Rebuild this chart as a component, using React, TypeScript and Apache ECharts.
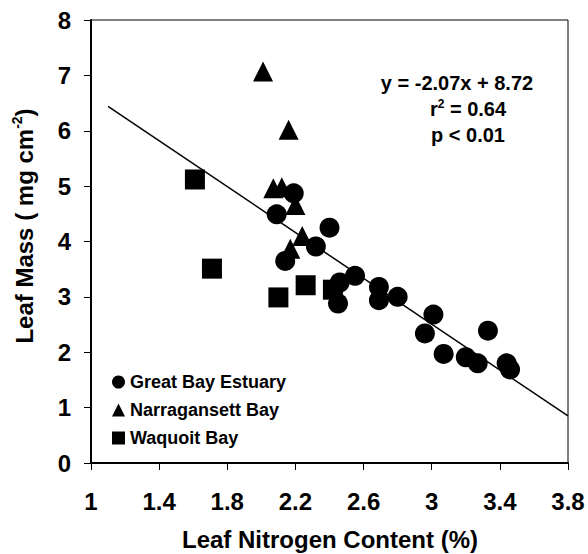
import React, { useEffect, useRef } from "react";
import * as echarts from "echarts";

const xTicks = [1, 1.4, 1.8, 2.2, 2.6, 3, 3.4, 3.8];
const yTicks = [0, 1, 2, 3, 4, 5, 6, 7, 8];

const greatBayX = [2.09, 2.19, 2.40, 2.32, 2.14, 2.46, 2.45, 2.55, 2.69, 2.69, 2.80, 3.01, 2.96, 3.33, 3.07, 3.20, 3.27, 3.44, 3.46];
const greatBayY = [4.49, 4.87, 4.25, 3.91, 3.65, 3.26, 2.88, 3.38, 3.18, 2.94, 3.00, 2.68, 2.34, 2.39, 1.97, 1.91, 1.80, 1.80, 1.69];

const narraX = [2.01, 2.16, 2.07, 2.12, 2.20, 2.24, 2.17];
const narraY = [7.07, 6.02, 4.96, 4.98, 4.66, 4.10, 3.87];

const waquoitX = [1.61, 1.71, 2.10, 2.26, 2.42];
const waquoitY = [5.12, 3.51, 2.99, 3.21, 3.13];

const fitX = [1.1, 3.8];
const fitY = [6.44, 0.85];

const seriesNames = ["Great Bay Estuary", "Narragansett Bay", "Waquoit Bay"];

const FONT = "'Liberation Sans', Arial, Helvetica, sans-serif";

function pairs(xs: number[], ys: number[]) {
  return xs.map((x, i) => [x, ys[i]]);
}

export default function App() {
  const ref = useRef<HTMLDivElement>(null);
  useEffect(() => {
    if (!ref.current) return;
    const chart = echarts.init(ref.current, undefined, { renderer: "svg" });
    const markerStyle = { color: "#000", opacity: 1 };
    chart.setOption({
      animation: false,
      backgroundColor: "#fff",
      grid: {
        left: 91,
        right: 20,
        top: 20,
        bottom: 91,
        show: true,
        borderColor: "#000",
        borderWidth: 1,
      },
      xAxis: {
        type: "value",
        min: 1,
        max: 3.8,
        interval: 0.4,
        splitLine: { show: false },
        axisLine: { show: true, onZero: false, lineStyle: { color: "#000", width: 2 } },
        axisTick: { show: true, length: 7, customValues: xTicks, lineStyle: { color: "#000", width: 1 } },
        axisLabel: {
          customValues: xTicks,
          margin: 26,
          fontSize: 24,
          fontWeight: "bold",
          fontFamily: FONT,
          color: "#000",
        },
      },
      yAxis: {
        type: "value",
        min: 0,
        max: 8,
        interval: 1,
        splitLine: { show: false },
        axisLine: { show: true, lineStyle: { color: "#000", width: 2 } },
        axisTick: { show: true, length: 7, customValues: yTicks, lineStyle: { color: "#000", width: 1 } },
        axisLabel: {
          customValues: yTicks,
          margin: 20,
          fontSize: 24,
          fontWeight: "bold",
          fontFamily: FONT,
          color: "#000",
        },
      },
      legend: {
        orient: "vertical",
        left: 112,
        top: 373,
        padding: 0,
        itemWidth: 13,
        itemHeight: 13,
        itemGap: 10,
        data: seriesNames,
        itemStyle: { opacity: 1 },
        textStyle: {
          fontSize: 18,
          lineHeight: 18,
          fontWeight: "bold",
          fontFamily: FONT,
          color: "#000",
        },
      },
      series: [
        {
          name: "fit",
          type: "line",
          data: pairs(fitX, fitY),
          showSymbol: false,
          symbol: "none",
          lineStyle: { color: "#000", width: 1.5 },
          silent: true,
          z: 1,
        },
        {
          name: seriesNames[1],
          type: "scatter",
          symbol: "triangle",
          symbolSize: 20,
          data: pairs(narraX, narraY),
          itemStyle: markerStyle,
          z: 2,
        },
        {
          name: seriesNames[2],
          type: "scatter",
          symbol: "rect",
          symbolSize: 20,
          data: pairs(waquoitX, waquoitY),
          itemStyle: markerStyle,
          z: 2,
        },
        {
          name: seriesNames[0],
          type: "scatter",
          symbol: "circle",
          symbolSize: 20,
          data: pairs(greatBayX, greatBayY),
          itemStyle: markerStyle,
          z: 3,
        },
      ],
      graphic: [
        {
          type: "text",
          x: 330,
          y: 539,
          style: {
            text: "Leaf Nitrogen Content (%)",
            fontSize: 24,
            fontWeight: "bold",
            fontFamily: FONT,
            fill: "#000",
            align: "center",
            verticalAlign: "middle",
          },
        },
        {
          type: "text",
          x: 24,
          y: 226,
          rotation: Math.PI / 2,
          style: {
            text: "{n|Leaf Mass ( mg cm}{s|-2}{n|)}",
            align: "center",
            verticalAlign: "middle",
            fill: "#000",
            rich: {
              n: { fontSize: 24, fontWeight: "bold", fontFamily: FONT, fill: "#000", lineHeight: 28 },
              s: { fontSize: 14, fontWeight: "bold", fontFamily: FONT, fill: "#000", verticalAlign: "top", lineHeight: 14 },
            },
          },
        },
        {
          type: "text",
          x: 457,
          y: 83,
          style: {
            text: "y = -2.07x + 8.72",
            fontSize: 20,
            fontWeight: "bold",
            fontFamily: FONT,
            fill: "#000",
            align: "center",
            verticalAlign: "middle",
          },
        },
        {
          type: "text",
          x: 468,
          y: 109,
          style: {
            text: "{n|r}{s|2}{n| = 0.64}",
            align: "center",
            verticalAlign: "middle",
            fill: "#000",
            rich: {
              n: { fontSize: 20, fontWeight: "bold", fontFamily: FONT, fill: "#000", lineHeight: 22 },
              s: { fontSize: 12, fontWeight: "bold", fontFamily: FONT, fill: "#000", verticalAlign: "top", lineHeight: 12 },
            },
          },
        },
        {
          type: "text",
          x: 468,
          y: 135,
          style: {
            text: "p < 0.01",
            fontSize: 20,
            fontWeight: "bold",
            fontFamily: FONT,
            fill: "#000",
            align: "center",
            verticalAlign: "middle",
          },
        },
      ],
    });
    return () => chart.dispose();
  }, []);
  return (
    <div
      ref={ref}
      style={{ position: "fixed", left: 0, top: 0, width: 588, height: 554 }}
    />
  );
}
